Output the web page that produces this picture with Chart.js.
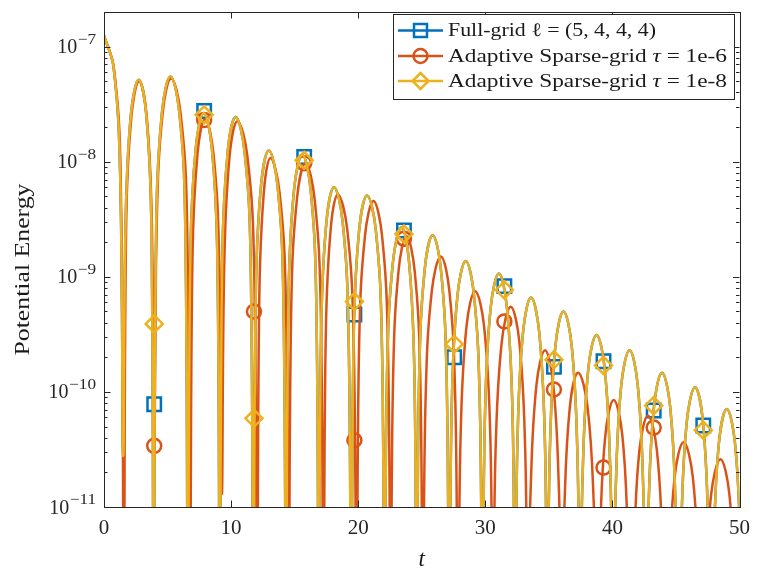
<!DOCTYPE html>
<html>
<head>
<meta charset="utf-8">
<script src="https://cdn.jsdelivr.net/npm/chart.js@4.4.1/dist/chart.umd.min.js"></script>
<style>
  html, body { margin: 0; padding: 0; background: #fff; }
  canvas { display: block; }
</style>
</head>
<body>
<canvas id="energyChart" width="759" height="574"></canvas>
<script>
// ---- data (t, potential energy) ----
// tau = 1e-8 run (the full-grid line sits underneath it)
const tTau8 = [0, 0.755, 1.27, 1.51,
  1.705, 2.12, 2.73, 3.32, 3.72, 3.91,
  4.12, 4.57, 5.23, 5.915, 6.38, 6.6,
  6.8, 7.225, 7.85, 8.48, 8.91, 9.11,
  9.31, 9.735, 10.36, 11.055, 11.53, 11.75,
  11.95, 12.36, 12.97, 13.645, 14.1, 14.32,
  14.52, 14.96, 15.6, 16.25, 16.69, 16.9,
  17.09, 17.5, 18.1, 18.775, 19.23, 19.45,
  19.65, 20.075, 20.7, 21.385, 21.85, 22.07,
  22.28, 22.735, 23.4, 24.0, 24.41, 24.6,
  24.8, 25.23, 25.86, 26.51, 26.95, 27.16,
  27.37, 27.81, 28.46, 29.115, 29.56, 29.77,
  29.98, 30.42, 31.07, 31.705, 32.14, 32.34,
  32.54, 32.97, 33.6, 34.24, 34.68, 34.88,
  35.08, 35.515, 36.15, 36.8, 37.24, 37.45,
  37.66, 38.1, 38.75, 39.4, 39.84, 40.05,
  40.26, 40.7, 41.35, 41.99, 42.43, 42.63,
  42.83, 43.265, 43.9, 44.55, 44.99, 45.2,
  45.41, 45.85, 46.5, 47.125, 47.55, 47.75,
  47.95, 48.375, 49.0, 49.65, 50.09, 50.3];
const eTau8 = [1.25e-7, 6.6e-8, 7.7e-9, 2.8e-11,
  3.2e-9, 2.6e-8, 5.15e-8, 2.6e-8, 3.2e-9, 1e-12,
  3.4e-9, 2.75e-8, 5.5e-8, 2.75e-8, 3.4e-9, 1e-12,
  1.64e-9, 1.33e-8, 2.65e-8, 1.33e-8, 1.64e-9, 1e-12,
  1.52e-9, 1.23e-8, 2.45e-8, 1.23e-8, 1.52e-9, 1e-12,
  7.8e-10, 6.3e-9, 1.25e-8, 6.3e-9, 7.8e-10, 1e-12,
  7.1e-10, 5.8e-9, 1.15e-8, 5.8e-9, 7.1e-10, 1e-12,
  3.7e-10, 3.0e-9, 6.0e-9, 3.0e-9, 3.7e-10, 1e-12,
  3.2e-10, 2.55e-9, 5.1e-9, 2.55e-9, 3.2e-10, 1e-12,
  1.67e-10, 1.35e-9, 2.7e-9, 1.35e-9, 1.67e-10, 1e-12,
  1.43e-10, 1.15e-9, 2.3e-9, 1.15e-9, 1.43e-10, 1e-12,
  8.5e-11, 6.85e-10, 1.37e-9, 6.85e-10, 8.5e-11, 1e-12,
  6.6e-11, 5.35e-10, 1.07e-9, 5.35e-10, 6.6e-11, 1e-12,
  4.1e-11, 3.3e-10, 6.6e-10, 3.3e-10, 4.1e-11, 1e-12,
  3.1e-11, 2.5e-10, 5.0e-10, 2.5e-10, 3.1e-11, 1e-12,
  1.94e-11, 1.57e-10, 3.13e-10, 1.57e-10, 1.94e-11, 1e-12,
  1.43e-11, 1.15e-10, 2.3e-10, 1.15e-10, 1.43e-11, 1e-12,
  9.1e-12, 7.35e-11, 1.47e-10, 7.35e-11, 9.1e-12, 1e-12,
  6.8e-12, 5.5e-11, 1.1e-10, 5.5e-11, 6.8e-12, 1e-12,
  4.4e-12, 3.55e-11, 7.1e-11, 3.55e-11, 4.4e-12, 1e-12];
const tFull = tTau8;
const eFull = eTau8;

// tau = 1e-6 run
const tTau6 = [0, 0.78, 1.31, 1.56,
  1.75, 2.16, 2.76, 3.355, 3.76, 3.95,
  4.16, 4.615, 5.28, 6.025, 6.53, 6.77,
  6.96, 7.36, 7.95, 8.61, 9.06, 9.27,
  9.47, 9.885, 10.5, 11.275, 11.8, 12.05,
  12.22, 12.575, 13.1, 13.815, 14.3, 14.53,
  14.74, 15.19, 15.85, 16.56, 17.04, 17.27,
  17.45, 17.835, 18.4, 19.135, 19.63, 19.87,
  20.08, 20.535, 21.2, 21.875, 22.33, 22.55,
  22.75, 23.175, 23.8, 24.44, 24.88, 25.08,
  25.31, 25.79, 26.5, 27.175, 27.63, 27.85,
  28.07, 28.525, 29.2, 29.9, 30.38, 30.6,
  30.82, 31.3, 32.0, 32.675, 33.13, 33.35,
  33.57, 34.025, 34.7, 35.35, 35.79, 36.0,
  36.21, 36.65, 37.3, 38.05, 38.56, 38.8,
  39.01, 39.45, 40.1, 40.775, 41.23, 41.45,
  41.67, 42.125, 42.8, 43.5, 43.98, 44.2,
  44.42, 44.9, 45.6, 46.325, 46.82, 47.05,
  47.28, 47.775, 48.5, 49.2, 49.68, 49.9];
const eTau6 = [1.25e-7, 6.5e-8, 7.7e-9, 1e-12,
  3.1e-9, 2.5e-8, 5.0e-8, 2.5e-8, 3.1e-9, 2.3e-11,
  3.3e-9, 2.65e-8, 5.3e-8, 2.65e-8, 3.3e-9, 1e-12,
  1.46e-9, 1.18e-8, 2.35e-8, 1.18e-8, 1.46e-9, 1.3e-11,
  1.4e-9, 1.13e-8, 2.25e-8, 1.13e-8, 1.4e-9, 1e-12,
  6.7e-10, 5.4e-9, 1.08e-8, 5.4e-9, 6.7e-10, 1e-12,
  6.0e-10, 4.85e-9, 9.7e-9, 4.85e-9, 6.0e-10, 1e-12,
  3.2e-10, 2.6e-9, 5.2e-9, 2.6e-9, 3.2e-10, 1e-12,
  2.8e-10, 2.28e-9, 4.55e-9, 2.28e-9, 2.8e-10, 1e-12,
  1.4e-10, 1.13e-9, 2.25e-9, 1.13e-9, 1.4e-10, 1e-12,
  9.3e-11, 7.5e-10, 1.5e-9, 7.5e-10, 9.3e-11, 1e-12,
  4.65e-11, 3.75e-10, 7.5e-10, 3.75e-10, 4.65e-11, 1e-12,
  3.4e-11, 2.75e-10, 5.5e-10, 2.75e-10, 3.4e-11, 1e-12,
  1.43e-11, 1.15e-10, 2.3e-10, 1.15e-10, 1.43e-11, 1e-12,
  9.1e-12, 7.35e-11, 1.47e-10, 7.35e-11, 9.1e-12, 1e-12,
  5.3e-12, 4.25e-11, 8.5e-11, 4.25e-11, 5.3e-12, 1e-12,
  3.8e-12, 3.1e-11, 6.2e-11, 3.1e-11, 3.8e-12, 1e-12,
  2.3e-12, 1.83e-11, 3.65e-11, 1.83e-11, 2.3e-12, 1e-12,
  1.6e-12, 1.3e-11, 2.6e-11, 1.3e-11, 1.6e-12, 1e-12];

// marker samples (null = below the axis, not shown)
const markT    = [3.95, 7.88, 11.8, 15.75, 19.7, 23.6, 27.55, 31.5, 35.4, 39.3, 43.25, 47.15];
const markFull = [7.8e-11, 2.76e-8, null, 1.1e-8, 4.7e-10, 2.53e-9, 2.0e-10, 8.3e-10, 1.65e-10, 1.85e-10, 6.9e-11, 5.1e-11];
const markTau6 = [3.4e-11, 2.3e-8, 5.0e-10, 9.7e-9, 3.8e-11, 2.14e-9, null, 4.1e-10, 1.05e-10, 2.2e-11, 4.9e-11, null];
const markTau8 = [3.9e-10, 2.56e-8, 5.9e-11, 1.03e-8, 6.1e-10, 2.36e-9, 2.6e-10, 7.7e-10, 1.9e-10, 1.7e-10, 7.6e-11, 4.65e-11];

const xTicks = [0, 10, 20, 30, 40, 50];
const yDecades = [-11, -10, -9, -8, -7];

const BLUE = '#0072BD', RED = '#D95319', YELLOW = '#EDB120', AXIS = '#262626';
const SERIF = '"Liberation Serif", "DejaVu Serif", serif';

const pairs = (ts, vs) => ts.map((t, i) => ({ x: t, y: vs[i] }));

const lineSet = (label, ts, vs, color, order) => ({
  label, data: pairs(ts, vs), borderColor: color, borderWidth: 2.5,
  pointRadius: 0, fill: false, tension: 0.4, order
});
const markSet = (ts, vs, color, style, radius, order) => ({
  data: pairs(ts, vs), showLine: false, pointStyle: style, pointRadius: radius,
  pointBorderColor: color, pointBackgroundColor: 'rgba(0,0,0,0)', pointBorderWidth: 2.5,
  borderColor: color, order
});

// draw text squeezed/stretched to a given width (Computer Modern is wider than Times)
function fitText(ctx, parts, x, y, width, size) {
  let w = 0;
  parts.forEach(([txt, st]) => { ctx.font = st + size + 'px ' + SERIF; w += ctx.measureText(txt).width; });
  ctx.save();
  ctx.translate(x, y);
  ctx.scale(width / w, 1);
  let tx = 0;
  parts.forEach(([txt, st]) => {
    ctx.font = st + size + 'px ' + SERIF;
    ctx.fillText(txt, tx, 0);
    tx += ctx.measureText(txt).width;
  });
  ctx.restore();
}

/* ===== axes box, ticks, labels (MATLAB look) ===== */
const axesPlugin = {
  id: 'matAxes',
  afterDraw(chart) {
    const { ctx, chartArea: a, scales: { x, y } } = chart;
    ctx.save();
    ctx.strokeStyle = AXIS;
    ctx.lineWidth = 1;
    ctx.strokeRect(Math.round(a.left) + 0.5, Math.round(a.top) + 0.5,
      Math.round(a.right - a.left), Math.round(a.bottom - a.top));

    ctx.beginPath();
    xTicks.forEach(v => {
      const px = Math.round(x.getPixelForValue(v)) + 0.5;
      ctx.moveTo(px, a.bottom); ctx.lineTo(px, a.bottom - 6.5);
      ctx.moveTo(px, a.top); ctx.lineTo(px, a.top + 6.5);
    });
    yDecades.forEach(e => {
      for (let m = 1; m <= 9; m++) {
        const v = m * Math.pow(10, e);
        if (v > y.max * 1.0001) break;
        const py = Math.round(y.getPixelForValue(v)) + 0.5;
        const len = m === 1 ? 6.5 : 3.5;
        ctx.moveTo(a.left, py); ctx.lineTo(a.left + len, py);
        ctx.moveTo(a.right, py); ctx.lineTo(a.right - len, py);
      }
    });
    ctx.stroke();

    // y tick labels 10^n
    ctx.fillStyle = AXIS;
    ctx.textBaseline = 'alphabetic';
    yDecades.forEach(e => {
      const py = y.getPixelForValue(Math.pow(10, e));
      const exp = '\u2212' + Math.abs(e);
      ctx.font = '15px ' + SERIF;
      const ew = ctx.measureText(exp).width * 1.15;
      const right = a.left - 8;
      ctx.textAlign = 'left';
      fitText(ctx, [[exp, '']], right - ew, py - 3, ew, 15);
      ctx.font = '20px ' + SERIF;
      ctx.textAlign = 'right';
      ctx.fillText('10', right - ew - 0.5, py + 6.5);
    });

    // axis titles
    ctx.fillStyle = '#1a1a1a';
    ctx.textAlign = 'center';
    ctx.font = 'italic 23px ' + SERIF;
    ctx.fillText('t', (a.left + a.right) / 2, 566);
    ctx.save();
    ctx.translate(29, (a.top + a.bottom) / 2 + 10);
    ctx.rotate(-Math.PI / 2);
    ctx.textAlign = 'left';
    fitText(ctx, [['Potential Energy', '']], -86, 0, 172, 22);
    ctx.restore();
    ctx.restore();
  }
};

/* ===== legend box drawn like the MATLAB one ===== */
const legendRows = [
  { color: BLUE,   style: 'square',  end: 656, parts: [['Full-grid ', ''], ['\u2113', ''], [' = (5, 4, 4, 4)', '']] },
  { color: RED,    style: 'circle',  end: 727, parts: [['Adaptive Sparse-grid ', ''], ['\u03c4', 'italic '], [' = 1e-6', '']] },
  { color: YELLOW, style: 'diamond', end: 727, parts: [['Adaptive Sparse-grid ', ''], ['\u03c4', 'italic '], [' = 1e-8', '']] }
];

const legendPlugin = {
  id: 'matLegend',
  afterDraw(chart) {
    const { ctx } = chart;
    const box = { x: 393.5, y: 14.5, w: 341, h: 85 };
    const rowY = [30.5, 56, 81];
    ctx.save();
    ctx.fillStyle = '#fff';
    ctx.fillRect(box.x, box.y, box.w, box.h);
    ctx.strokeStyle = AXIS;
    ctx.lineWidth = 1;
    ctx.strokeRect(box.x, box.y, box.w, box.h);

    legendRows.forEach((r, i) => {
      const yy = rowY[i];
      ctx.strokeStyle = r.color;
      ctx.lineWidth = 2.5;
      ctx.beginPath();
      ctx.moveTo(398, yy); ctx.lineTo(443, yy);
      ctx.stroke();
      const mx = 420.5;
      ctx.beginPath();
      if (r.style === 'square') {
        ctx.rect(mx - 6.5, yy - 6.5, 13, 13);
      } else if (r.style === 'circle') {
        ctx.arc(mx, yy, 7, 0, Math.PI * 2);
      } else {
        ctx.moveTo(mx, yy - 8); ctx.lineTo(mx + 8, yy);
        ctx.lineTo(mx, yy + 8); ctx.lineTo(mx - 8, yy); ctx.closePath();
      }
      ctx.stroke();

      ctx.fillStyle = '#1a1a1a';
      ctx.textAlign = 'left';
      ctx.textBaseline = 'middle';
      fitText(ctx, r.parts, 448, yy + 1, r.end - 448, 19);
    });
    ctx.restore();
  }
};

const canvas = document.getElementById('energyChart');
new Chart(canvas, {
  type: 'line',
  data: {
    datasets: [
      lineSet('Full-grid', tFull, eFull, BLUE, 6),
      markSet(markT, markFull, BLUE, 'rect', 9.5, 5),
      lineSet('Adaptive 1e-6', tTau6, eTau6, RED, 4),
      markSet(markT, markTau6, RED, 'circle', 7, 3),
      lineSet('Adaptive 1e-8', tTau8, eTau8, YELLOW, 2),
      markSet(markT, markTau8, YELLOW, 'rectRot', 8.5, 1)
    ]
  },
  options: {
    responsive: false,
    animation: false,
    layout: { padding: { left: 0, right: 15, top: 3, bottom: 0 } },
    elements: { line: { capBezierPoints: false } },
    plugins: { legend: { display: false }, tooltip: { enabled: false } },
    scales: {
      x: {
        type: 'linear', min: 0, max: 50,
        afterFit: s => { s.height = 67; },
        grid: { display: false, drawTicks: false },
        border: { display: false },
        ticks: { stepSize: 10, padding: 9, color: AXIS, font: { family: SERIF, size: 21 } }
      },
      y: {
        type: 'logarithmic', min: 1e-11, max: 2e-7,
        afterFit: s => { s.width = 104; },
        grid: { display: false, drawTicks: false },
        border: { display: false },
        ticks: { display: false }
      }
    }
  },
  plugins: [axesPlugin, legendPlugin]
});
</script>
</body>
</html>
